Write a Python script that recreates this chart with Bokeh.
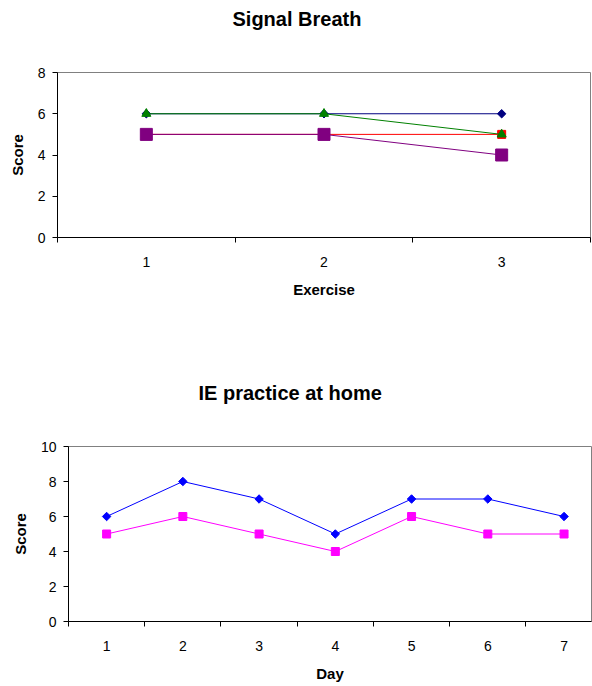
import math
from bokeh.plotting import figure
from bokeh.layouts import column, row
from bokeh.models import FixedTicker, Range1d, Title
from bokeh.embed import file_html
from bokeh.resources import INLINE

# ---- data ----
exercise = [1, 2, 3]
sb_navy = [6, 6, 6]
sb_red = [5, 5, 5]
sb_green = [6, 6, 5]
sb_purple = [5, 5, 4]

day = [1, 2, 3, 4, 5, 6, 7]
ie_blue = [6, 8, 7, 5, 7, 7, 6]
ie_magenta = [5, 6, 5, 4, 6, 5, 5]

FONT = "Liberation Sans"


def style(p, title, title_offset, xlabel, ncat, ymax):
    # spacer between frame and title (pushes the title upward)
    spacer = Title(text=" ", text_font_size="1px", standoff=35, text_color="white")
    p.add_layout(spacer, "above")
    p.title.text = title
    p.title.align = "left"
    p.title.offset = title_offset
    p.title.standoff = 10
    p.title.text_font = FONT
    p.title.text_font_size = "20px"
    p.title.text_font_style = "bold"
    p.title.text_color = "black"

    p.background_fill_color = "white"
    p.border_fill_color = "white"
    p.outline_line_color = "#808080"
    p.outline_line_width = 1
    p.xgrid.visible = False
    p.ygrid.visible = False

    xa = p.xaxis[0]
    xa.ticker = FixedTicker(ticks=list(range(1, ncat + 1)),
                            minor_ticks=[i + 0.5 for i in range(0, ncat + 1)])
    xa.major_tick_out = 0
    xa.major_tick_in = 0
    xa.minor_tick_out = 5
    xa.minor_tick_in = 0
    xa.minor_tick_line_color = "black"
    xa.axis_line_color = "black"
    xa.major_label_text_font = FONT
    xa.major_label_text_font_size = "14px"
    xa.major_label_text_color = "black"
    xa.major_label_standoff = 14
    xa.axis_label = xlabel
    xa.axis_label_text_font = FONT
    xa.axis_label_text_font_size = "15px"
    xa.axis_label_text_font_style = "bold"
    xa.axis_label_text_color = "black"
    xa.axis_label_standoff = 11

    ya = p.yaxis[0]
    ya.ticker = FixedTicker(ticks=list(range(0, ymax + 1, 2)))
    ya.major_tick_out = 5
    ya.major_tick_in = 0
    ya.minor_tick_out = 0
    ya.minor_tick_in = 0
    ya.axis_line_color = "black"
    ya.major_tick_line_color = "black"
    ya.major_label_text_font = FONT
    ya.major_label_text_font_size = "14px"
    ya.major_label_text_color = "black"
    ya.major_label_standoff = 7
    ya.axis_label = "Score"
    ya.axis_label_text_font = FONT
    ya.axis_label_text_font_size = "15px"
    ya.axis_label_text_font_style = "bold"
    ya.axis_label_text_color = "black"
    ya.axis_label_standoff = 9


DIAMOND = dict(marker="square", angle=math.pi / 4)

# ---- top chart ----
p1 = figure(width=592, height=340, output_backend="svg", toolbar_location=None,
            x_range=Range1d(0.5, 3.5), y_range=Range1d(0, 8),
            min_border_left=57, min_border_right=2, min_border_top=72, min_border_bottom=103)
style(p1, "Signal Breath", 175, "Exercise", 3, 8)

p1.line(exercise, sb_navy, line_color="#000080", line_width=1)
p1.scatter(exercise, sb_navy, size=6, fill_color="#000080", line_color="#000080", **DIAMOND)
p1.line(exercise, sb_red, line_color="#FF0000", line_width=1)
p1.scatter(exercise, sb_red, marker="square", size=8, fill_color="#FF0000", line_color="#FF0000")
p1.line(exercise, sb_green, line_color="#008000", line_width=1)
p1.scatter(exercise, sb_green, marker="triangle", size=9, fill_color="#008000", line_color="#008000")
p1.line(exercise, sb_purple, line_color="#800080", line_width=1)
p1.scatter(exercise, sb_purple, marker="square", size=12, fill_color="#800080", line_color="#800080")

# ---- bottom chart ----
p2 = figure(width=592, height=346, output_backend="svg", toolbar_location=None,
            x_range=Range1d(0.5, 7.36), y_range=Range1d(0, 10),
            min_border_left=68, min_border_right=1, min_border_top=106, min_border_bottom=65)
style(p2, "IE practice at home", 130, "Day", 7, 10)

p2.line(day, ie_blue, line_color="#0000FF", line_width=1)
p2.scatter(day, ie_blue, size=6, fill_color="#0000FF", line_color="#0000FF", **DIAMOND)
p2.line(day, ie_magenta, line_color="#FF00FF", line_width=1)
p2.scatter(day, ie_magenta, marker="square", size=8, fill_color="#FF00FF", line_color="#FF00FF")

layout = column(row(p1), row(p2), spacing=0)
open("out.html", "w").write(file_html(layout, INLINE))
